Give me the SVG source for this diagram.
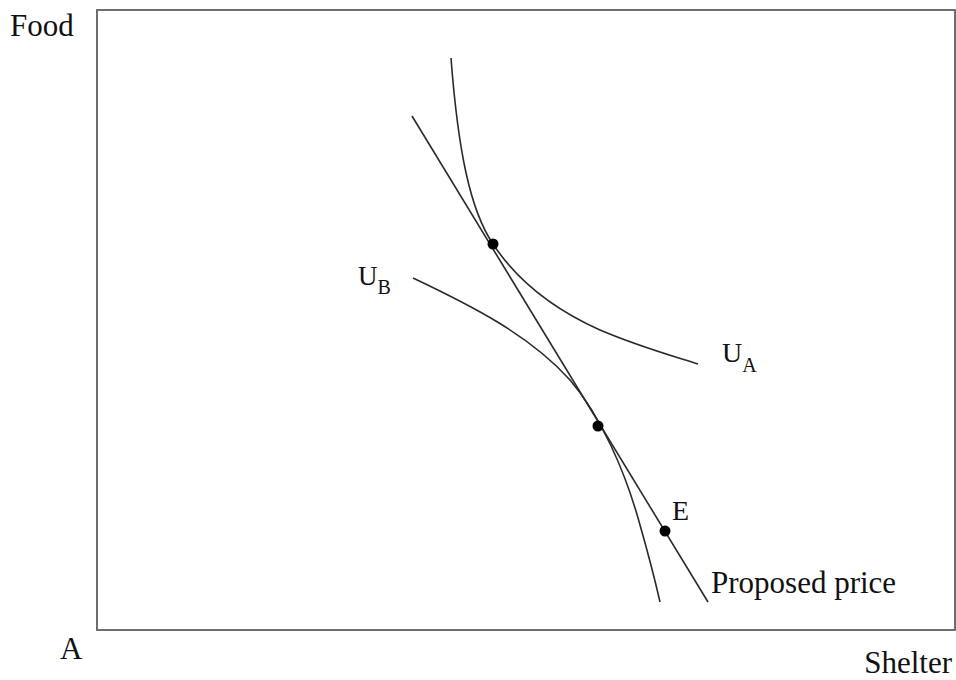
<svg xmlns="http://www.w3.org/2000/svg" width="956" height="680" viewBox="0 0 956 680">
<style>
.lbl{font-family:"Liberation Serif","Times New Roman",serif;fill:#111}
.crv{fill:none;stroke:#2a2a2a;stroke-width:1.6}
.dot{fill:#000}
</style>
<rect x="0" y="0" width="956" height="680" fill="#fff"/>
<g id="axes">
<rect x="97" y="10" width="858" height="620" fill="none" stroke="#6e6e6e" stroke-width="2"/>
</g>
<g id="connectors">
<line class="crv" x1="412" y1="116" x2="708" y2="602"/>
<path class="crv" d="M451,58 C458,150 470,210 493,244 C520,285 560,312 600,330 C640,347 670,355 698,364"/>
<path class="crv" d="M413,278 C470,305 530,335 570,380 C600,415 625,470 640,525 C650,560 655,580 660,602"/>
</g>
<g id="points">
<circle class="dot" cx="493" cy="244" r="5.5"/>
<circle class="dot" cx="598" cy="426" r="5.5"/>
<circle class="dot" cx="665" cy="531" r="5.5"/>
</g>
<g id="labels">
<text class="lbl" x="10" y="36" font-size="31">Food</text>
<text class="lbl" x="60" y="659" font-size="31">A</text>
<text class="lbl" x="952" y="673" font-size="31" text-anchor="end">Shelter</text>
<text class="lbl" x="358" y="285" font-size="27">U<tspan font-size="20" dy="9">B</tspan></text>
<text class="lbl" x="722" y="362" font-size="28">U<tspan font-size="20" dy="10">A</tspan></text>
<text class="lbl" x="672" y="520" font-size="28">E</text>
<text class="lbl" x="711" y="593" font-size="31">Proposed price</text>
</g>
</svg>
